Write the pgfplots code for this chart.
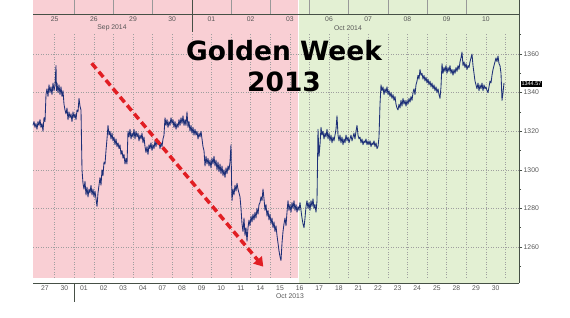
\documentclass[border=0pt]{standalone}
\usepackage{pgfplots}
\pgfplotsset{compat=1.18}
\usepackage{fontspec}
\setmainfont{Liberation Sans}
\newfontfamily\titlefont{DejaVu Sans}
\usetikzlibrary{arrows.meta}
\definecolor{pinkbg}{RGB}{249,207,212}
\definecolor{greenbg}{RGB}{227,240,211}
\definecolor{navy}{RGB}{30,48,120}
\definecolor{lbl}{RGB}{85,85,85}
\definecolor{axc}{RGB}{70,80,70}
\definecolor{arrowred}{RGB}{225,30,35}
\begin{document}
\begin{tikzpicture}[x=1pt,y=1pt]
\path[use as bounding box] (0,0) rectangle (570,318);
\begin{axis}[
  at={(33pt,35pt)}, anchor=south west,
  scale only axis, width=486pt, height=283pt,
  xmin=33, xmax=519, ymin=1241.35, ymax=1388,
  clip=false,
  axis x line=none,
  axis y line=right,
  y axis line style={-, draw=axc, line width=0.6pt},
  ytick={1260,1280,1300,1320,1340,1360},
  minor ytick={1250,1270,1290,1310,1330,1350,1370},
  tick align=outside,
  major tick length=3pt, minor tick length=2pt,
  every tick/.style={draw=axc, line width=0.5pt},
  yticklabel style={font=\fontsize{6.8}{7}\selectfont, text=lbl, /pgf/number format/1000 sep={}, inner sep=1.5pt},
  /pgf/number format/assume math mode=true,
]
% backgrounds
\fill[pinkbg] (axis cs:33,1243.9) rectangle (axis cs:298,1388);
\fill[greenbg] (axis cs:299,1241.35) rectangle (axis cs:519,1388);
% horizontal grid
\pgfplotsinvokeforeach{1260,1280,1300,1320,1340,1360}{
  \draw[gray!75, line width=0.4pt, dash pattern=on 1pt off 1.5pt] (axis cs:33,#1) -- (axis cs:519,#1);
}
% vertical grid at day boundaries
\pgfplotsinvokeforeach{54.6,74.2,93.8,113.4,133,152.6,172.2,191.8,211.4,231,250.6,270.2,289.8,309.4,329,348.6,368.2,387.8,407.4,427,446.6,466.2,485.8,505.4}{
  \draw[gray!75, line width=0.4pt, dash pattern=on 1pt off 1.5pt] (axis cs:#1,1244) -- (axis cs:#1,1370.9);
}
% top strip lines
\pgfplotsinvokeforeach{74.2,113.4,152.6,231,270.2,309.4,348.6,387.8,427,466.2}{
  \draw[gray!80, line width=0.5pt] (axis cs:#1,1380.7) -- (axis cs:#1,1388);
}
\draw[axc, line width=0.6pt] (axis cs:191.8,1371.4) -- (axis cs:191.8,1388);
% top axis line
\draw[axc, line width=0.6pt] (axis cs:33,1380.7) -- (axis cs:519,1380.7);
% bottom axis line
\draw[axc, line width=0.6pt] (axis cs:33,1241.35) -- (axis cs:519,1241.35);
\draw[axc, line width=0.6pt] (axis cs:74.2,1241.35) -- ([yshift=-19pt]axis cs:74.2,1241.35);
% top labels
\node[font=\fontsize{6.8}{7}\selectfont, text=lbl] at (axis cs:54.6,1378) {25};
\node[font=\fontsize{6.8}{7}\selectfont, text=lbl] at (axis cs:93.8,1378) {26};
\node[font=\fontsize{6.8}{7}\selectfont, text=lbl] at (axis cs:133,1378) {29};
\node[font=\fontsize{6.8}{7}\selectfont, text=lbl] at (axis cs:172.2,1378) {30};
\node[font=\fontsize{6.8}{7}\selectfont, text=lbl] at (axis cs:211.4,1378) {01};
\node[font=\fontsize{6.8}{7}\selectfont, text=lbl] at (axis cs:250.6,1378) {02};
\node[font=\fontsize{6.8}{7}\selectfont, text=lbl] at (axis cs:289.8,1378) {03};
\node[font=\fontsize{6.8}{7}\selectfont, text=lbl] at (axis cs:329,1378) {06};
\node[font=\fontsize{6.8}{7}\selectfont, text=lbl] at (axis cs:368.2,1378) {07};
\node[font=\fontsize{6.8}{7}\selectfont, text=lbl] at (axis cs:407.4,1378) {08};
\node[font=\fontsize{6.8}{7}\selectfont, text=lbl] at (axis cs:446.6,1378) {09};
\node[font=\fontsize{6.8}{7}\selectfont, text=lbl] at (axis cs:485.8,1378) {10};
\node[font=\fontsize{6.8}{7}\selectfont, text=lbl] at (axis cs:112,1373.5) {Sep 2014};
\node[font=\fontsize{6.8}{7}\selectfont, text=lbl] at (axis cs:348,1373.5) {Oct 2014};
% bottom labels
\node[font=\fontsize{6.8}{7}\selectfont, text=lbl] at ([yshift=-5.5pt]axis cs:44.8,1241.35) {27};
\node[font=\fontsize{6.8}{7}\selectfont, text=lbl] at ([yshift=-5.5pt]axis cs:64.4,1241.35) {30};
\node[font=\fontsize{6.8}{7}\selectfont, text=lbl] at ([yshift=-5.5pt]axis cs:84,1241.35) {01};
\node[font=\fontsize{6.8}{7}\selectfont, text=lbl] at ([yshift=-5.5pt]axis cs:103.6,1241.35) {02};
\node[font=\fontsize{6.8}{7}\selectfont, text=lbl] at ([yshift=-5.5pt]axis cs:123.2,1241.35) {03};
\node[font=\fontsize{6.8}{7}\selectfont, text=lbl] at ([yshift=-5.5pt]axis cs:142.8,1241.35) {04};
\node[font=\fontsize{6.8}{7}\selectfont, text=lbl] at ([yshift=-5.5pt]axis cs:162.4,1241.35) {07};
\node[font=\fontsize{6.8}{7}\selectfont, text=lbl] at ([yshift=-5.5pt]axis cs:182,1241.35) {08};
\node[font=\fontsize{6.8}{7}\selectfont, text=lbl] at ([yshift=-5.5pt]axis cs:201.6,1241.35) {09};
\node[font=\fontsize{6.8}{7}\selectfont, text=lbl] at ([yshift=-5.5pt]axis cs:221.2,1241.35) {10};
\node[font=\fontsize{6.8}{7}\selectfont, text=lbl] at ([yshift=-5.5pt]axis cs:240.8,1241.35) {11};
\node[font=\fontsize{6.8}{7}\selectfont, text=lbl] at ([yshift=-5.5pt]axis cs:260.4,1241.35) {14};
\node[font=\fontsize{6.8}{7}\selectfont, text=lbl] at ([yshift=-5.5pt]axis cs:280,1241.35) {15};
\node[font=\fontsize{6.8}{7}\selectfont, text=lbl] at ([yshift=-5.5pt]axis cs:299.6,1241.35) {16};
\node[font=\fontsize{6.8}{7}\selectfont, text=lbl] at ([yshift=-5.5pt]axis cs:319.2,1241.35) {17};
\node[font=\fontsize{6.8}{7}\selectfont, text=lbl] at ([yshift=-5.5pt]axis cs:338.8,1241.35) {18};
\node[font=\fontsize{6.8}{7}\selectfont, text=lbl] at ([yshift=-5.5pt]axis cs:358.4,1241.35) {21};
\node[font=\fontsize{6.8}{7}\selectfont, text=lbl] at ([yshift=-5.5pt]axis cs:378,1241.35) {22};
\node[font=\fontsize{6.8}{7}\selectfont, text=lbl] at ([yshift=-5.5pt]axis cs:397.6,1241.35) {23};
\node[font=\fontsize{6.8}{7}\selectfont, text=lbl] at ([yshift=-5.5pt]axis cs:417.2,1241.35) {24};
\node[font=\fontsize{6.8}{7}\selectfont, text=lbl] at ([yshift=-5.5pt]axis cs:436.8,1241.35) {25};
\node[font=\fontsize{6.8}{7}\selectfont, text=lbl] at ([yshift=-5.5pt]axis cs:456.4,1241.35) {28};
\node[font=\fontsize{6.8}{7}\selectfont, text=lbl] at ([yshift=-5.5pt]axis cs:476,1241.35) {29};
\node[font=\fontsize{6.8}{7}\selectfont, text=lbl] at ([yshift=-5.5pt]axis cs:495.6,1241.35) {30};
\node[font=\fontsize{6.8}{7}\selectfont, text=lbl] at ([yshift=-13.5pt]axis cs:290,1241.35) {Oct 2013};
% price series
\addplot[navy, line width=0.85pt, line join=round] table {
x y
33 1323
34 1325
35 1322
36 1324
37 1321
38 1325
39 1323
40 1326
41 1322
42 1324
43 1320
44 1327
45 1325
46 1339
47 1342
48 1338
49 1344
50 1340
51 1343
52 1339
53 1345
54 1341
55 1344
56 1354
56.5 1341
57 1345
58 1340
59 1344
60 1339
61 1343
62 1338
63 1341
64 1334
65 1331
66 1329
67 1332
68 1326
69 1330
70 1327
71 1329
72 1325
73 1330
74 1327
75 1329
76 1326
77 1331
78 1330
79 1337
80 1333
81 1331
82 1300
83 1293
84 1290
85 1294
86 1287
87 1291
88 1286
89 1290
90 1288
91 1292
92 1287
93 1290
94 1286
95 1289
96 1285
97 1281
98 1288
99 1292
100 1296
101 1292
102 1300
103 1297
104 1304
105 1303
106 1310
107 1316
108 1323
109 1318
110 1320
111 1316
112 1319
113 1315
114 1317
115 1313
116 1316
117 1312
118 1314
119 1311
120 1313
121 1308
122 1310
123 1306
124 1308
125 1303
126 1306
127 1303
128 1320
129 1317
130 1321
131 1316
132 1319
133 1317
134 1321
135 1316
136 1320
137 1317
138 1319
139 1315
140 1318
141 1316
142 1319
143 1314
144 1317
145 1312
146 1309
147 1312
148 1308
149 1313
150 1311
151 1314
152 1310
153 1313
154 1311
155 1315
156 1312
157 1316
158 1313
159 1315
160 1311
161 1314
162 1312
163 1316
164 1318
165 1327
166 1323
167 1326
168 1322
169 1325
170 1323
171 1327
172 1324
173 1326
174 1322
175 1325
176 1321
177 1324
178 1322
179 1326
180 1323
181 1327
182 1324
183 1328
184 1323
185 1326
186 1323
187 1330
188 1322
189 1325
190 1320
191 1323
192 1319
193 1322
194 1318
195 1321
196 1318
197 1320
198 1316
199 1319
200 1317
201 1320
202 1316
203 1312
204 1310
205 1302
206 1307
207 1303
208 1306
209 1302
210 1305
211 1301
212 1306
213 1303
214 1307
215 1302
216 1305
217 1300
218 1304
219 1299
220 1303
221 1298
222 1302
223 1297
224 1300
225 1296
226 1301
227 1298
228 1302
229 1300
230 1304
231 1313
231.5 1296
232 1284
233 1290
234 1287
235 1292
236 1289
237 1293
238 1290
239 1288
240 1286
241 1280
242 1272
243 1268
244 1275
245 1266
246 1270
247 1263
248 1270
249 1274
250 1271
251 1276
252 1273
253 1277
254 1274
255 1278
256 1275
257 1280
258 1277
259 1282
260 1283
261 1286
262 1284
263 1290
264 1285
265 1279
266 1282
267 1276
268 1279
269 1274
270 1277
271 1272
272 1275
273 1270
274 1273
275 1268
276 1271
277 1266
278 1262
279 1258
280 1255
281 1253
282 1262
283 1268
284 1272
285 1275
286 1271
287 1278
288 1284
289 1279
290 1282
291 1278
292 1283
293 1280
294 1284
295 1279
296 1282
297 1278
298 1281
299 1279
300 1283
301 1279
302 1275
303 1272
304 1270
305 1275
306 1281
307 1284
308 1280
309 1283
310 1279
311 1284
312 1281
313 1285
314 1280
315 1282
316 1278
317 1284
318 1321
319 1307
320 1313
321 1322
322 1318
323 1320
324 1316
325 1319
326 1317
327 1321
328 1316
329 1319
330 1315
331 1318
332 1314
333 1317
334 1315
335 1318
336 1321
337 1328
338 1318
339 1315
340 1318
341 1314
342 1317
343 1313
344 1316
345 1314
346 1318
347 1315
348 1317
349 1314
350 1316
351 1318
352 1315
353 1317
354 1319
355 1316
356 1320
357 1323
358 1318
359 1316
360 1317
361 1314
362 1316
363 1313
364 1315
365 1314
366 1316
367 1313
368 1315
369 1313
370 1315
371 1312
372 1314
373 1313
374 1315
375 1312
376 1314
377 1311
378 1312
379 1317
380 1334
381 1344
382 1341
383 1343
384 1339
385 1342
386 1340
387 1343
388 1339
389 1341
390 1338
391 1340
392 1337
393 1339
394 1336
395 1338
396 1334
397 1332
398 1331
399 1334
400 1332
401 1336
402 1333
403 1337
404 1334
405 1336
406 1333
407 1336
408 1334
409 1337
410 1335
411 1338
412 1336
413 1340
414 1342
415 1339
416 1344
417 1346
418 1349
419 1347
420 1352
421 1349
422 1350
423 1347
424 1349
425 1346
426 1348
427 1345
428 1347
429 1344
430 1346
431 1343
432 1345
433 1342
434 1344
435 1341
436 1343
437 1340
438 1342
439 1339
440 1337
441 1343
442 1355
443 1350
444 1353
445 1351
446 1354
447 1350
448 1353
449 1351
450 1354
451 1350
452 1352
453 1349
454 1352
455 1350
456 1353
457 1351
458 1354
459 1352
460 1356
461 1358
462 1361
463 1354
464 1356
465 1353
466 1355
467 1352
468 1354
469 1353
470 1356
471 1358
472 1360
473 1354
474 1350
475 1346
476 1344
477 1342
478 1345
479 1341
480 1344
481 1342
482 1345
483 1341
484 1344
485 1342
486 1343
487 1341
488 1340
489 1343
490 1346
491 1345
492 1349
493 1352
494 1354
495 1356
496 1358
497 1356
498 1359
499 1355
500 1354
501 1350
502 1336
503 1340
504 1345
};
% last price box
\node[anchor=west, fill=black, text=white, inner sep=0.8pt, font=\fontsize{5.5}{6}\selectfont] at ([xshift=1.5pt]axis cs:519,1344.57) {1344.57};
% arrow
\draw[arrowred, line width=3.5pt, dash pattern=on 7pt off 4pt, -{Triangle[length=9pt,width=11pt]}] (axis cs:91.7,1355.2) -- (axis cs:263.3,1249.8);
% title
\node[align=center, font=\titlefont\bfseries\fontsize{26.5}{31}\selectfont, text=black] at (axis cs:284,1353.5) {Golden Week\\2013};
\end{axis}
\end{tikzpicture}
\end{document}
